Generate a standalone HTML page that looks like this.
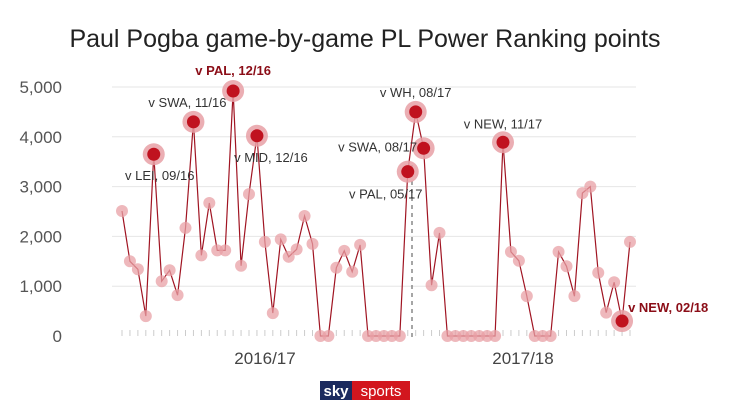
<!DOCTYPE html>
<html><head><meta charset="utf-8"><style>
body{margin:0;background:#fff;width:730px;height:411px;overflow:hidden;font-family:"Liberation Sans",sans-serif}
</style></head><body>
<svg width="730" height="411" id="svg">
<text x="365" y="47" text-anchor="middle" font-size="25" fill="#222">Paul Pogba game-by-game PL Power Ranking points</text>
<g id="grid"></g><g id="ticks"></g>
<line x1="412" y1="165" x2="412" y2="340" stroke="#888" stroke-dasharray="4,4" stroke-width="1.5"/>
<polyline id="line" fill="none" stroke="#a01422" stroke-width="1.2"/>
<g id="pts"></g><g id="ann"></g>
<text x="265" y="364" text-anchor="middle" font-size="17" fill="#444">2016/17</text>
<text x="523" y="364" text-anchor="middle" font-size="17" fill="#444">2017/18</text>
<g>
<rect x="320" y="381" width="32" height="19" fill="#1b2a5e"/>
<rect x="352" y="381" width="58" height="19" fill="#d2161e"/>
<text x="336" y="396" text-anchor="middle" font-size="15" font-weight="bold" fill="#fff">sky</text>
<text x="381" y="396" text-anchor="middle" font-size="15" fill="#fff">sports</text>
</g>
</svg>
<script>
const values=[2510,1500,1340,400,3650,1100,1320,820,2170,4300,1620,2670,1720,1720,4920,1410,2850,4020,1890,460,1940,1590,1740,2410,1850,0,0,1370,1710,1290,1830,0,0,0,0,0,3300,4500,3770,1020,2070,0,0,0,0,0,0,0,3890,1690,1510,800,0,0,0,1690,1400,800,2870,3000,1270,470,1080,300,1890];
const yTicks=[0,1000,2000,3000,4000,5000];
const highlights=[4,9,14,17,36,37,38,48,63];
const labels=["v LEI, 09/16","v SWA, 11/16","v PAL, 12/16","v MID, 12/16","v PAL, 05/17","v WH, 08/17","v SWA, 08/17","v NEW, 11/17","v NEW, 02/18"];
const NS="http://www.w3.org/2000/svg";
const x=i=>122+i*(630-122)/(values.length-1);
const y=v=>336-v*(336-87)/5000;
function mk(t,a,p){const e=document.createElementNS(NS,t);for(const k in a)e.setAttribute(k,a[k]);p.appendChild(e);return e;}
const grid=document.getElementById('grid');
yTicks.forEach(t=>{
 if(t>0){const l=mk('line',{x1:112,x2:636,y1:y(t),y2:y(t),stroke:'#e6e6e6'},grid);
 
 }
 const tx=mk('text',{x:62,y:y(t)+6,'text-anchor':'end','font-size':17,fill:'#555'},grid);
 tx.textContent=t.toLocaleString('en-US');
 
 
});
const tk=document.getElementById('ticks');
values.forEach((v,i)=>{const l=mk('line',{x1:x(i),x2:x(i),y1:330,y2:336,stroke:'#ccc'},tk);
 
 });
document.getElementById('line').setAttribute('points',values.map((v,i)=>x(i)+','+y(v)).join(' '));
const pts=document.getElementById('pts');
values.forEach((v,i)=>{if(highlights.includes(i))return;
 const c=mk('circle',{cx:x(i),cy:y(v),r:6,fill:'#e8a0a6','fill-opacity':0.75},pts);
 
 });
const offs=[[6,21,'#333',0,'middle'],[-6,-20,'#333',0,'middle'],[0,-21,'#8b0d17',1,'middle'],[14,21,'#333',0,'middle'],[-22,22,'#333',0,'middle'],[0,-20,'#333',0,'middle'],[-46,-2,'#333',0,'middle'],[0,-19,'#333',0,'middle'],[6,-14,'#8b0d17',1,'start']];
const ann=document.getElementById('ann');
highlights.forEach((i,k)=>{
 const h=mk('circle',{cx:x(i),cy:y(values[i]),r:11,fill:'#e8a0a6','fill-opacity':0.85},pts);
 
 
 const d=mk('circle',{cx:x(i),cy:y(values[i]),r:6.5,fill:'#c0121f'},pts);
 
 
 const o=offs[k];
 const t=mk('text',{x:x(i)+o[0],y:y(values[i])+o[1]+5,'text-anchor':o[4],'font-size':13,fill:o[2],'font-weight':o[3]?'bold':'normal'},ann);
 t.textContent=labels[k];
 
 
});
</script>
</body></html>
